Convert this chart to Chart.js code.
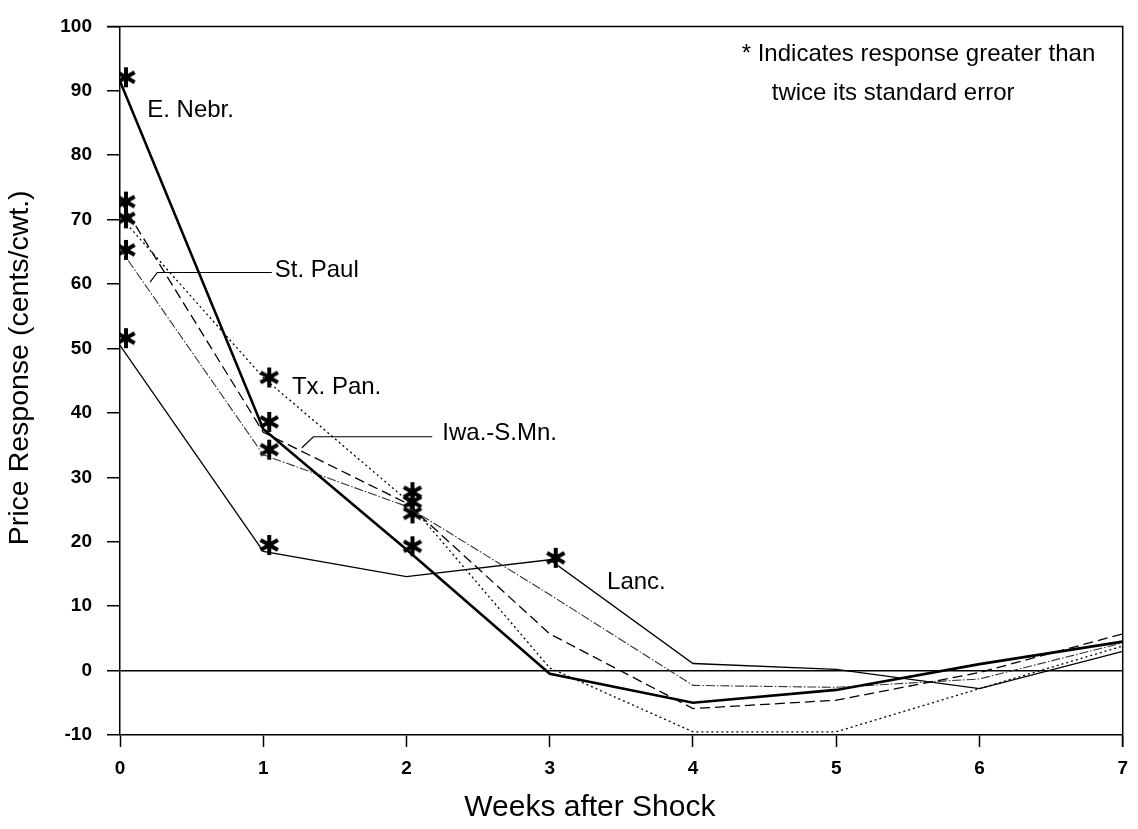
<!DOCTYPE html>
<html>
<head>
<meta charset="utf-8">
<script src="https://cdn.jsdelivr.net/npm/chart.js@4"></script>
<style>
  html, body { margin: 0; padding: 0; background: #fff; }
  #wrap { width: 1138px; height: 829px; }
</style>
</head>
<body>
<div id="wrap"><canvas id="chart" width="1138" height="829"></canvas></div>
<script>
// weeks after the shock
const weeks = [0, 1, 2, 3, 4, 5, 6, 7];

// price response, cents/cwt.
const eNebr  = [91.5, 37.5, 18.8, -0.5, -5.0, -3.0,  1.0, 4.5];
const txPan  = [70.5, 45.5, 26.5,  0.4, -9.5, -9.5, -2.8, 3.8];
const iwaSMn = [73.0, 37.0, 26.0,  5.7, -5.9, -4.6, -0.3, 5.7];
const stPaul = [65.5, 33.5, 25.5, 11.8, -2.3, -2.6, -1.3, 4.3];
const lanc   = [50.5, 18.5, 14.6, 17.2,  1.1,  0.2, -2.8, 3.0];

// responses greater than twice their standard error
const starWeeks  = [0, 0, 0, 0, 0, 1, 1, 1, 1, 2, 2, 2, 2, 3];
const starValues = [92.1, 72.8, 70.2, 65.3, 51.6, 45.5, 38.6, 34.3, 19.5, 27.7, 26.2, 24.4, 19.3, 17.5];

const yTicks = [-10, 0, 10, 20, 30, 40, 50, 60, 70, 80, 90, 100];

const FONT = '"Liberation Sans", Arial, Helvetica, sans-serif';

function pts(values) {
  return weeks.map((w, i) => ({ x: w, y: values[i] }));
}

// bold asterisk marker, drawn a little right of the point like the original
function makeStar() {
  const c = document.createElement('canvas');
  c.width = 46;
  c.height = 46;
  const g = c.getContext('2d');
  const cx = 23 + 6, cy = 23, r = 10;
  g.strokeStyle = '#000';
  g.lineWidth = 4;
  g.lineCap = 'butt';
  for (let k = 0; k < 3; k++) {
    const a = Math.PI / 2 + k * Math.PI / 3;
    g.beginPath();
    g.moveTo(cx - r * Math.cos(a), cy - r * Math.sin(a));
    g.lineTo(cx + r * Math.cos(a), cy + r * Math.sin(a));
    g.stroke();
  }
  return c;
}

const frame = {
  id: 'frame',
  afterDatasetsDraw(chart) {
    const { ctx, chartArea: a } = chart;
    ctx.save();
    ctx.strokeStyle = '#000';
    ctx.lineWidth = 1.5;
    ctx.beginPath();
    ctx.moveTo(a.left - 13, a.top);
    ctx.lineTo(a.right, a.top);
    ctx.lineTo(a.right, a.bottom + 12);
    ctx.stroke();
    ctx.restore();
  }
};

const notes = {
  id: 'notes',
  afterDatasetsDraw(chart) {
    const { ctx, scales: { x, y } } = chart;
    const px = v => x.getPixelForValue(v);
    const py = v => y.getPixelForValue(v);

    ctx.save();
    ctx.fillStyle = '#000';
    ctx.font = '24px ' + FONT;
    ctx.textBaseline = 'middle';
    ctx.textAlign = 'left';

    ctx.fillText('E. Nebr.', px(0.19), py(87.0));
    ctx.fillText('St. Paul', px(1.08), py(62.1));
    ctx.fillText('Tx. Pan.', px(1.20), py(43.9));
    ctx.fillText('Iwa.-S.Mn.', px(2.25), py(36.9));
    ctx.fillText('Lanc.', px(3.40), py(13.7));

    ctx.fillText('* Indicates response greater than', px(4.34), py(95.7));
    ctx.fillText('twice its standard error', px(4.55), py(89.6));

    // leader lines for the labels
    ctx.strokeStyle = '#000';
    ctx.lineWidth = 1.2;
    ctx.beginPath();
    ctx.moveTo(px(0.21), py(60.3));
    ctx.lineTo(px(0.26), py(61.8));
    ctx.lineTo(px(1.06), py(61.8));
    ctx.moveTo(px(1.27), py(34.6));
    ctx.lineTo(px(1.35), py(36.3));
    ctx.lineTo(px(2.18), py(36.3));
    ctx.stroke();

    // axis titles (the original sits them a bit off centre)
    ctx.textAlign = 'center';
    ctx.font = '30px ' + FONT;
    ctx.fillText('Weeks after Shock', px(3.28), 808);
    ctx.translate(20, py(47.0));
    ctx.rotate(-Math.PI / 2);
    ctx.font = '28.5px ' + FONT;
    ctx.fillText('Price Response (cents/cwt.)', 0, 0);
    ctx.restore();
  }
};

const lineBase = {
  pointRadius: 0,
  borderColor: '#000',
  fill: false,
  tension: 0
};

new Chart(document.getElementById('chart'), {
  type: 'line',
  data: {
    datasets: [
      { ...lineBase, label: 'E. Nebr.', data: pts(eNebr), borderWidth: 2.6 },
      { ...lineBase, label: 'Tx. Pan.', data: pts(txPan), borderWidth: 1.3, borderDash: [2, 3] },
      { ...lineBase, label: 'Iwa.-S.Mn.', data: pts(iwaSMn), borderWidth: 1.3, borderDash: [10, 5] },
      { ...lineBase, label: 'St. Paul', data: pts(stPaul), borderWidth: 1.1, borderColor: '#333', borderDash: [9, 2, 1.5, 2] },
      { ...lineBase, label: 'Lanc.', data: pts(lanc), borderWidth: 1.3 },
      {
        label: 'significant',
        type: 'scatter',
        data: starWeeks.map((w, i) => ({ x: w, y: starValues[i] })),
        pointStyle: makeStar(),
        pointRadius: 10,
        showLine: false
      }
    ]
  },
  options: {
    responsive: false,
    animation: false,
    devicePixelRatio: 1,
    layout: { padding: { top: 15, right: 15, left: 0, bottom: 0 } },
    plugins: {
      legend: { display: false },
      tooltip: { enabled: false }
    },
    scales: {
      x: {
        type: 'linear',
        min: 0,
        max: 7,
        ticks: {
          stepSize: 1,
          color: '#000',
          padding: 10,
          font: { family: FONT, size: 19, weight: 'bold' }
        },
        grid: { drawOnChartArea: false, tickLength: 12, tickColor: '#000', tickWidth: 1.5 },
        border: { color: '#000', width: 1.5 },
        afterFit(scale) { scale.height = 94; }
      },
      y: {
        min: -10,
        max: 100,
        afterBuildTicks(scale) { scale.ticks = yTicks.map(v => ({ value: v })); },
        ticks: {
          color: '#000',
          padding: 15,
          font: { family: FONT, size: 19, weight: 'bold' }
        },
        grid: {
          color: c => (c.tick && c.tick.value === 0 ? '#000' : 'rgba(0,0,0,0)'),
          lineWidth: 1.5,
          tickLength: 13,
          tickColor: '#000',
          tickWidth: 1.5
        },
        border: { color: '#000', width: 1.5 },
        afterFit(scale) { scale.width = 120; }
      }
    }
  },
  plugins: [frame, notes]
});
</script>
</body>
</html>
